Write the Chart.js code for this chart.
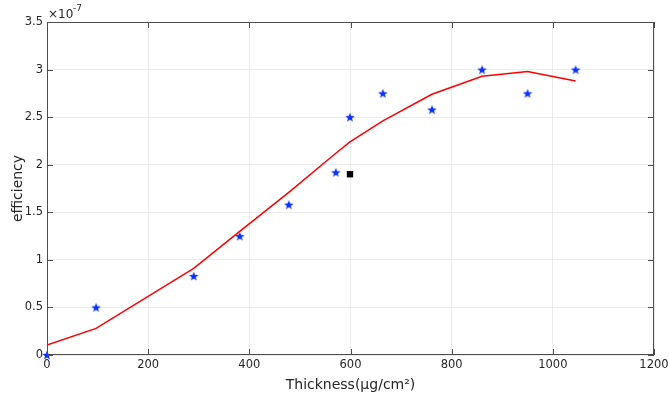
<!DOCTYPE html>
<html>
<head>
<meta charset="utf-8">
<script src="https://cdn.jsdelivr.net/npm/chart.js@4"></script>
<style>
  html, body { margin: 0; padding: 0; background: #fff; }
  #wrap { width: 669px; height: 399px; }
</style>
</head>
<body>
<div id="wrap"><canvas id="chart" width="669" height="399"></canvas></div>
<script>
// efficiency values are in units of 1e-7 (axis shows x10^-7)
let measX = [0, 97, 290, 381, 478, 571, 599, 664, 761, 860, 950, 1045];
let measY = [0, 0.5, 0.83, 1.25, 1.58, 1.92, 2.5, 2.75, 2.58, 3.0, 2.75, 3.0];
let fitX = [0, 97, 290, 381, 478, 571, 599, 664, 761, 860, 950, 1045];
let fitY = [0.105, 0.28, 0.91, 1.30, 1.71, 2.12, 2.24, 2.46, 2.74, 2.93, 2.98, 2.88];
let refX = [599];
let refY = [1.90];

let fontFam = '"DejaVu Sans", sans-serif';

// filled five point star marker
function makeStar(size, color){
  let c = document.createElement('canvas');
  c.width = size; c.height = size;
  let g = c.getContext('2d');
  let cx = size / 2, cy = size / 2 + 0.5;
  let ro = size / 2, ri = ro * 0.42;
  g.beginPath();
  for (let i = 0; i < 10; i++){
    let r = i % 2 === 0 ? ro : ri;
    let a = -Math.PI / 2 + i * Math.PI / 5;
    let px = cx + r * Math.cos(a), py = cy + r * Math.sin(a);
    if (i === 0) g.moveTo(px, py); else g.lineTo(px, py);
  }
  g.closePath();
  g.fillStyle = color;
  g.fill();
  return c;
}
let star = makeStar(10, '#0a32ff');

function toPts(xs, ys){
  let out = [];
  for (let i = 0; i < xs.length; i++){
    out.push({x: xs[i], y: ys[i]});
  }
  return out;
}

// box outline, inward ticks and exponent label
let boxPlugin = {
  id: 'box',
  afterDraw(chart){
    let ctx = chart.ctx;
    let a = chart.chartArea;
    let xs = chart.scales.x, ys = chart.scales.y;
    ctx.save();
    ctx.strokeStyle = '#4d4d4d';
    ctx.lineWidth = 1;
    ctx.strokeRect(a.left + 0.5, a.top + 0.5, a.right - a.left - 1, a.bottom - a.top - 1);
    ctx.beginPath();
    xs.ticks.forEach(function(t){
      let px = Math.round(xs.getPixelForValue(t.value)) + 0.5;
      ctx.moveTo(px, a.bottom); ctx.lineTo(px, a.bottom - 6);
      ctx.moveTo(px, a.top); ctx.lineTo(px, a.top + 6);
    });
    ys.ticks.forEach(function(t){
      let py = Math.round(ys.getPixelForValue(t.value)) + 0.5;
      ctx.moveTo(a.left, py); ctx.lineTo(a.left + 6, py);
      ctx.moveTo(a.right, py); ctx.lineTo(a.right - 6, py);
    });
    ctx.stroke();
    ctx.fillStyle = '#262626';
    ctx.textBaseline = 'alphabetic';
    ctx.font = '12px ' + fontFam;
    ctx.fillText('\u00d710', a.left + 1, a.top - 4);
    ctx.font = '9px ' + fontFam;
    ctx.fillText('-7', a.left + 26, a.top - 11);
    ctx.restore();
  }
};

let ctx = document.getElementById('chart').getContext('2d');
let myChart = new Chart(ctx, {
  type: 'scatter',
  data: {
    datasets: [
      {
        label: 'fit',
        type: 'line',
        data: toPts(fitX, fitY),
        borderColor: '#ff0000',
        borderWidth: 1.5,
        pointRadius: 0,
        tension: 0,
        fill: false
      },
      {
        label: 'measured',
        data: toPts(measX, measY),
        pointStyle: star,
        pointRadius: 5,
        backgroundColor: '#0a32ff',
        clip: false
      },
      {
        label: 'reference',
        data: toPts(refX, refY),
        pointStyle: 'rect',
        pointRadius: 4.5,
        backgroundColor: '#000',
        borderColor: '#000',
        borderWidth: 0
      }
    ]
  },
  options: {
    responsive: false,
    animation: false,
    layout: { padding: { left: 10, right: 15, top: 22, bottom: 0 } },
    plugins: {
      legend: { display: false },
      tooltip: { enabled: false }
    },
    scales: {
      x: {
        type: 'linear',
        min: 0, max: 1200,
        ticks: {
          stepSize: 200, color: '#262626', font: { family: fontFam, size: 11.5 }, padding: 3, maxRotation: 0,
          callback: function(v){ return String(v); }
        },
        grid: { color: '#ebebeb', drawTicks: false, tickLength: 0 },
        border: { display: false },
        title: { display: true, text: 'Thickness(\u03bcg/cm\u00b2)', color: '#262626', font: { family: fontFam, size: 14 }, padding: { top: 0, bottom: 5 } },
        afterFit: function(s){ s.height = 44; s.paddingRight = 0; }
      },
      y: {
        min: 0, max: 3.5,
        ticks: {
          stepSize: 0.5, color: '#262626', font: { family: fontFam, size: 11.5 }, padding: 4,
          callback: function(v){ return String(v); }
        },
        grid: { color: '#ebebeb', drawTicks: false, tickLength: 0 },
        border: { display: false },
        title: { display: true, text: 'efficiency', color: '#262626', font: { family: fontFam, size: 14 }, padding: { top: 0, bottom: 2 } },
        afterFit: function(s){ s.width = 37; }
      }
    }
  },
  plugins: [boxPlugin]
});
</script>
</body>
</html>
